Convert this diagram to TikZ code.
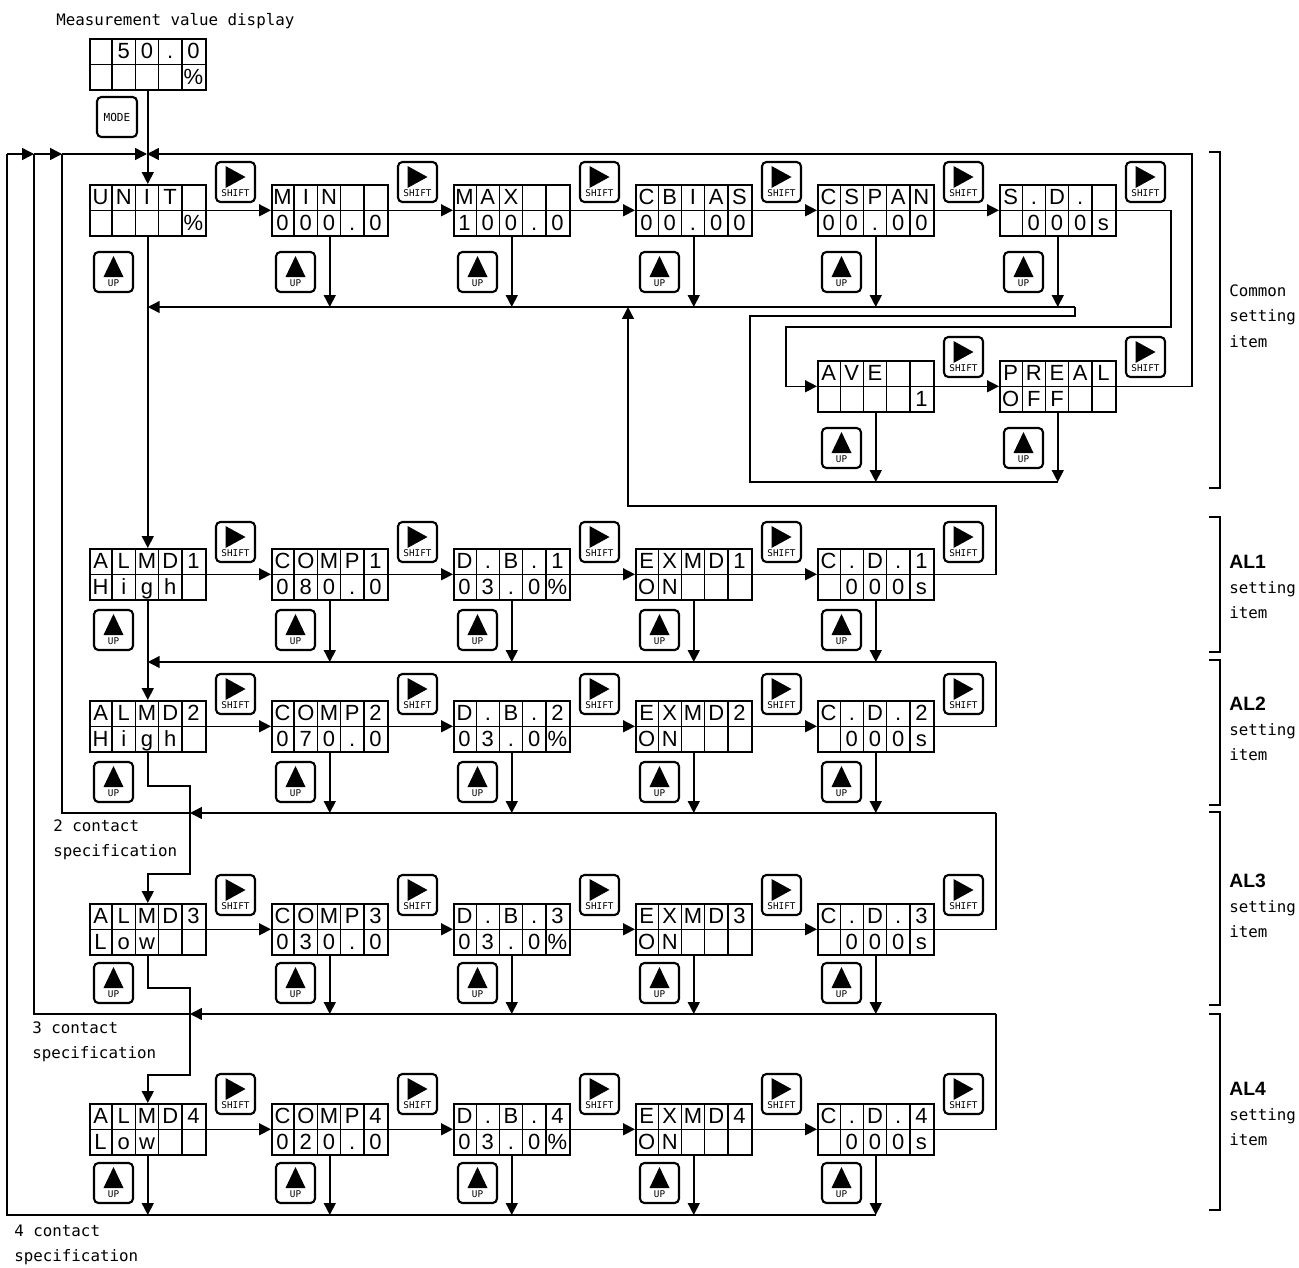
\documentclass[tikz,border=0pt]{standalone}
\usepackage{fontspec}
\setmainfont{Liberation Sans}
\setmonofont{DejaVu Sans Mono}
\usetikzlibrary{arrows.meta,calc}

% display: name, left, top, upper row, lower row
\newcommand{\lcd}[5]{%
  \node[lcd] (#1) at (#2,#3) {};
  \draw[lcdline] (#1.west) -- (#1.east);
  \foreach \k in {1,...,4}
    \draw[lcdline] ({#2+23.2*\k},#3) -- ++(0,51);
  \foreach \c [count=\k] in {#4}
    \node[lcdchar] at ({#2+23.2*\k-11.6},{#3+20.5}) {\c};
  \foreach \c [count=\k] in {#5}
    \node[lcdchar] at ({#2+23.2*\k-11.6},{#3+46}) {\c};
}
% keys: name, centre x, centre y
\newcommand{\shiftkey}[3]{%
  \node[keybox] (#1) at (#2,#3) {};
  \fill ($(#1.center)+(-10,-16)$) -- ++(20,11) -- ++(-20,11) -- cycle;
  \node[keytext] at ($(#1.center)+(0,11)$) {SHIFT};
}
\newcommand{\upkey}[3]{%
  \node[keybox] (#1) at (#2,#3) {};
  \fill ($(#1.center)+(-10,5)$) -- ++(10,-21) -- ++(10,21) -- cycle;
  \node[keytext] at ($(#1.center)+(0,11.5)$) {UP};
}

\begin{document}
\begin{tikzpicture}[
  x=0.02cm, y=-0.02cm,
  lcd/.style={rectangle, draw, line width=0.9pt, minimum width=2.32cm, minimum height=1.02cm, inner sep=0pt, anchor=north west},
  lcdline/.style={line width=0.8pt},
  lcdchar/.style={font=\fontsize{12.5}{12.5}\selectfont, inner sep=0pt, anchor=base},
  keybox/.style={rectangle, draw, rounded corners=2.5pt, line width=1.2pt, minimum width=0.78cm, minimum height=0.8cm, inner sep=0pt},
  keytext/.style={font=\ttfamily\fontsize{5.3}{5.3}\selectfont, inner sep=0pt},
  note/.style={font=\ttfamily\fontsize{9}{14.4}\selectfont, align=left, anchor=west, inner sep=0pt},
  wire/.style={line width=0.85pt},
  arrow/.style={-{Triangle[length=6.8pt, width=6.8pt]}, line width=0.85pt}
]
\useasboundingbox (0,0) rectangle (1299,1268);

% MEASUREMENT VALUE
\node[note] (meastitle) at (56,21) {Measurement value display};
\lcd{meas}{89}{38}{{},5,0,.,0}{{},{},{},{},\%}
\node[keybox, minimum width=0.8cm, font=\ttfamily\fontsize{6.3}{6.3}\selectfont] (mode) at (117,117) {MODE};

% COMMON SETTING ITEMS
\lcd{unit}{89}{184}{U,N,I,T,{}}{{},{},{},{},\%}
\lcd{min}{271}{184}{M,I,N,{},{}}{0,0,0,.,0}
\lcd{max}{453}{184}{M,A,X,{},{}}{1,0,0,.,0}
\lcd{cbias}{635}{184}{C,B,I,A,S}{0,0,.,0,0}
\lcd{cspan}{817}{184}{C,S,P,A,N}{0,0,.,0,0}
\lcd{sd}{999}{184}{S,.,D,.,{}}{{},0,0,0,s}
\foreach \x [count=\i] in {89,271,453,635,817,999} {
  \shiftkey{sc\i}{\x+146.5}{182}
  \upkey{uc\i}{\x+24.5}{272}
}
\lcd{ave}{817}{360}{A,V,E,{},{}}{{},{},{},{},1}
\lcd{preal}{999}{360}{P,R,E,A,L}{O,F,F,{},{}}
\foreach \x [count=\i] in {817,999} {
  \shiftkey{sa\i}{\x+146.5}{357}
  \upkey{ua\i}{\x+24.5}{448}
}

% ALARM SETTING ITEMS
\lcd{almd1}{89}{548}{A,L,M,D,1}{H,i,g,h,{}}
\lcd{comp1}{271}{548}{C,O,M,P,1}{0,8,0,.,0}
\lcd{db1}{453}{548}{D,.,B,.,1}{0,3,.,0,\%}
\lcd{exmd1}{635}{548}{E,X,M,D,1}{O,N,{},{},{}}
\lcd{cd1}{817}{548}{C,.,D,.,1}{{},0,0,0,s}

\lcd{almd2}{89}{700}{A,L,M,D,2}{H,i,g,h,{}}
\lcd{comp2}{271}{700}{C,O,M,P,2}{0,7,0,.,0}
\lcd{db2}{453}{700}{D,.,B,.,2}{0,3,.,0,\%}
\lcd{exmd2}{635}{700}{E,X,M,D,2}{O,N,{},{},{}}
\lcd{cd2}{817}{700}{C,.,D,.,2}{{},0,0,0,s}

\lcd{almd3}{89}{903}{A,L,M,D,3}{L,o,w,{},{}}
\lcd{comp3}{271}{903}{C,O,M,P,3}{0,3,0,.,0}
\lcd{db3}{453}{903}{D,.,B,.,3}{0,3,.,0,\%}
\lcd{exmd3}{635}{903}{E,X,M,D,3}{O,N,{},{},{}}
\lcd{cd3}{817}{903}{C,.,D,.,3}{{},0,0,0,s}

\lcd{almd4}{89}{1103}{A,L,M,D,4}{L,o,w,{},{}}
\lcd{comp4}{271}{1103}{C,O,M,P,4}{0,2,0,.,0}
\lcd{db4}{453}{1103}{D,.,B,.,4}{0,3,.,0,\%}
\lcd{exmd4}{635}{1103}{E,X,M,D,4}{O,N,{},{},{}}
\lcd{cd4}{817}{1103}{C,.,D,.,4}{{},0,0,0,s}

\foreach \r/\s/\u in {1/542/630, 2/694/782, 3/895/983, 4/1094/1183}
  \foreach \x [count=\i] in {89,271,453,635,817} {
    \shiftkey{s\r\i}{\x+146.5}{\s}
    \upkey{u\r\i}{\x+24.5}{\u}
  }

% ROUTING POINTS
\coordinate (jn) at (147,154);
\coordinate (t7) at (7,154);
\coordinate (t34) at (34,154);
\coordinate (t62) at (62,154);
\coordinate (topR) at (1192,154);
\coordinate (r0) at (1075,307);
\coordinate (r0b) at (750,316);
\coordinate (rA) at (750,482);
\coordinate (sdR) at (1171,327);
\coordinate (aveL) at (786,327);
\coordinate (a1R) at (996,506);
\coordinate (a1L) at (628,506);
\coordinate (r1) at (996,662);
\coordinate (r2) at (996,813);
\coordinate (r3) at (996,1014);
\coordinate (r4) at (7,1215);
\coordinate (j2) at (190,813);
\coordinate (j3) at (190,1014);
\coordinate (jog2) at (190,786);
\coordinate (jog2b) at (190,874);
\coordinate (jog3) at (190,988);
\coordinate (jog3b) at (190,1075);

% TOP LOOP
\draw[arrow] (meas.south) -- (unit.north);
\draw[arrow] (t7) -- (t34);
\draw[arrow] (t34) -- (t62);
\draw[arrow] (t62) -- (jn);
\draw[arrow] (preal.east) -| (topR) -- (jn);

% COMMON FLOW
\foreach \a/\b in {unit/min, min/max, max/cbias, cbias/cspan, cspan/sd, ave/preal}
  \draw[arrow] (\a.east) -- (\b.west);
\draw[arrow] (sd.east) -| (sdR) -- (aveL) |- (ave.west);
\draw[arrow] (unit.south) -- (almd1.north);
\foreach \n in {min,max,cbias,cspan,sd}
  \draw[arrow] (\n.south) -- (\n.south |- r0);
\foreach \n in {ave,preal}
  \draw[arrow] (\n.south) -- (\n.south |- rA);
\draw[wire] (preal.south |- rA) -- (rA) -- (r0b) -| (r0);
\draw[arrow] (r0) -- (unit.south |- r0);

% ALARM FLOW
\foreach \r in {1,...,4}
  \foreach \a/\b in {almd/comp, comp/db, db/exmd, exmd/cd}
    \draw[arrow] (\a\r.east) -- (\b\r.west);
\draw[arrow] (cd1.east) -| (a1R) -- (a1L) -- (a1L |- r0);
\draw[arrow] (almd1.south) -- (almd2.north);
\draw[arrow] (r1) -- (almd1.south |- r1);
\foreach \n in {comp1,db1,exmd1,cd1}
  \draw[arrow] (\n.south) -- (\n.south |- r1);

\draw[wire] (cd2.east) -| (r1);
\draw[arrow] (almd2.south) |- (jog2) -- (jog2b) -| (almd3.north);
\draw[arrow] (r2) -- (j2);
\draw[wire] (j2) -| (t62);
\foreach \n in {comp2,db2,exmd2,cd2}
  \draw[arrow] (\n.south) -- (\n.south |- r2);

\draw[wire] (cd3.east) -| (r2);
\draw[arrow] (almd3.south) |- (jog3) -- (jog3b) -| (almd4.north);
\draw[arrow] (r3) -- (j3);
\draw[wire] (j3) -| (t34);
\foreach \n in {comp3,db3,exmd3,cd3}
  \draw[arrow] (\n.south) -- (\n.south |- r3);

\draw[wire] (cd4.east) -| (r3);
\foreach \n in {almd4,comp4,db4,exmd4,cd4}
  \draw[arrow] (\n.south) -- (\n.south |- r4);
\draw[wire] (cd4.south |- r4) -- (r4) -- (t7);

% CONTACT NOTES
\node[note] (two) at (53,840) {2 contact\\specification};
\node[note] (three) at (32,1042) {3 contact\\specification};
\node[note] (four) at (14,1245) {4 contact\\specification};

% GROUP BRACKETS
\draw[wire] (1209,152) -- (1220,152) -- (1220,488) -- (1209,488);
\draw[wire] (1209,517) -- (1220,517) -- (1220,652) -- (1209,652);
\draw[wire] (1209,660) -- (1220,660) -- (1220,805) -- (1209,805);
\draw[wire] (1209,812) -- (1220,812) -- (1220,1005) -- (1209,1005);
\draw[wire] (1209,1014) -- (1220,1014) -- (1220,1210) -- (1209,1210);
\node[note] (gcommon) at (1229,316) {Common\\setting\\item};
\node[note] (gal1) at (1229,587) {{\rmfamily\bfseries\fontsize{11}{14.4}\selectfont AL1}\\setting\\item};
\node[note] (gal2) at (1229,729) {{\rmfamily\bfseries\fontsize{11}{14.4}\selectfont AL2}\\setting\\item};
\node[note] (gal3) at (1229,906) {{\rmfamily\bfseries\fontsize{11}{14.4}\selectfont AL3}\\setting\\item};
\node[note] (gal4) at (1229,1114) {{\rmfamily\bfseries\fontsize{11}{14.4}\selectfont AL4}\\setting\\item};

\end{tikzpicture}
\end{document}
